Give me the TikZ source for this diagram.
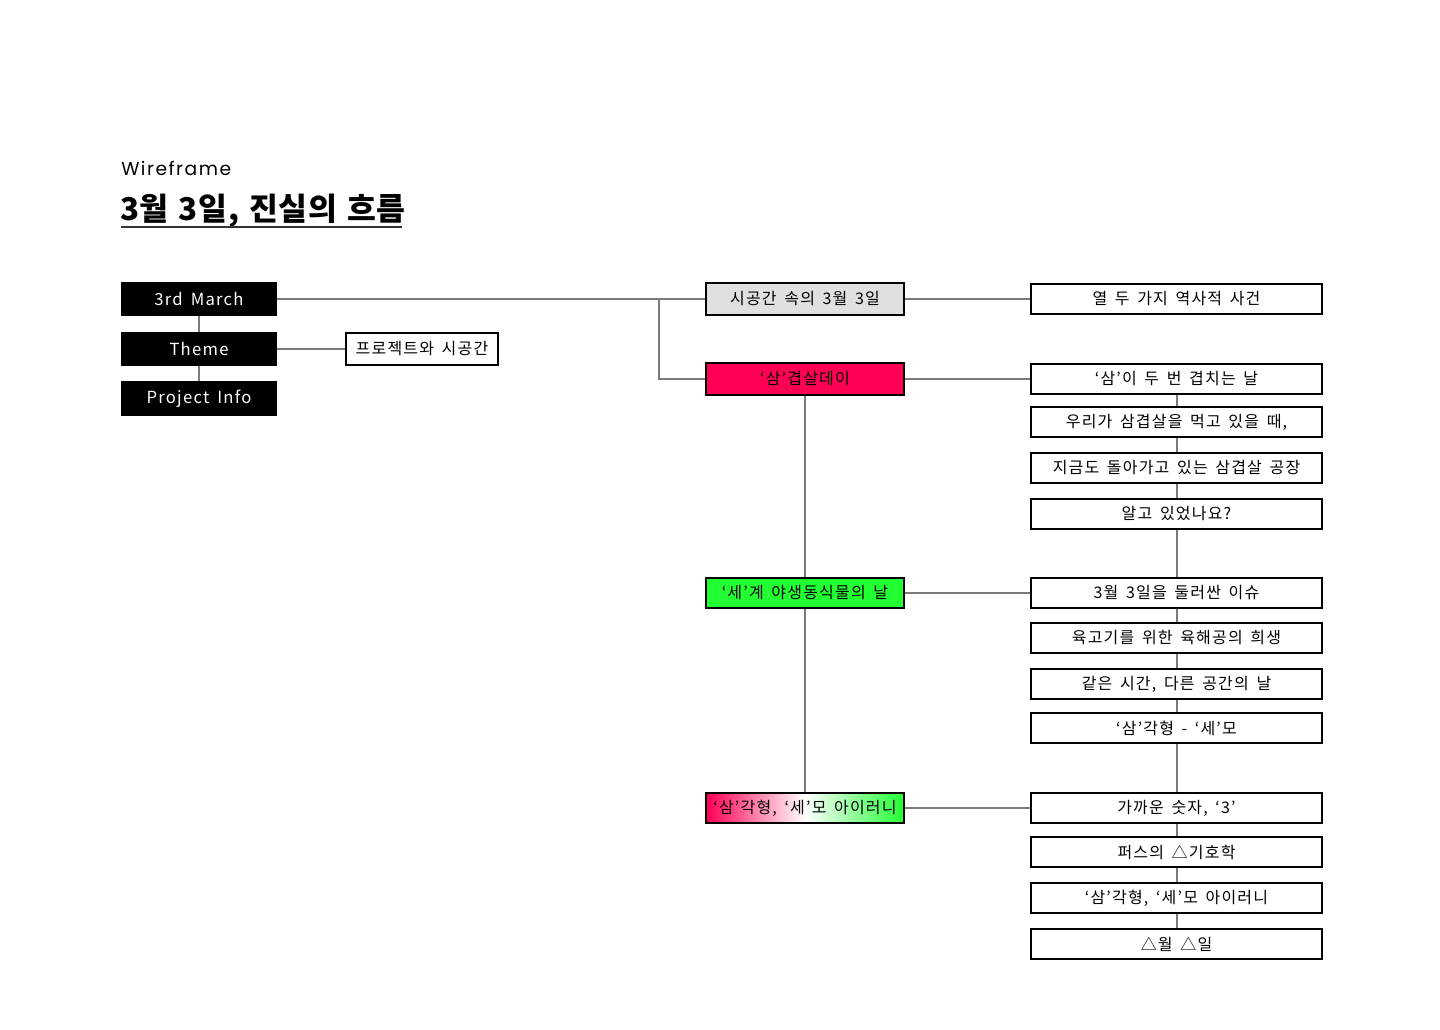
\documentclass[tikz,border=0pt]{standalone}
\usepackage{fontspec}
\setmainfont{Noto Sans CJK KR}
\newfontfamily\kr[LetterSpace=7.5, WordSpace=1.6]{Noto Sans CJK KR}
\newfontfamily\krt[LetterSpace=2, WordSpace=1.3]{Noto Sans CJK KR}
\newfontfamily\wf[LetterSpace=8]{Poppins}
\definecolor{hot}{HTML}{FF0055}
\definecolor{lime}{HTML}{22FF33}
\definecolor{lightbox}{HTML}{E0E0E0}
\definecolor{wire}{HTML}{7A7A7A}
\tikzset{
  conn/.style={draw=wire, line width=1.5pt},
  darkbox/.style={fill=black, text=white, minimum width=117pt, minimum height=25.5pt, inner sep=0pt, font=\kr\fontsize{12.5}{14}\selectfont},
  wbox/.style={draw=black, line width=1.6pt, fill=white, inner sep=0pt, font=\kr\fontsize{12}{14}\selectfont},
  midbox/.style={wbox, minimum width=148.5pt, minimum height=24pt},
  rbox/.style={wbox, minimum width=218.25pt, minimum height=22.5pt},
}
\begin{document}
\begin{tikzpicture}[x=0.75pt, y=-0.75pt]
\useasboundingbox (0,0) rectangle (1440,1030);
% header
\node[anchor=west, inner sep=0pt, font=\wf\fontsize{14}{16}\selectfont] (wfr) at (121,168) {Wireframe};
\node[anchor=west, inner sep=0pt, font=\krt\bfseries\fontsize{23.5}{26}\selectfont] (ttl) at (120,211) {3월 3일, 진실의 흐름};
\coordinate (ul1) at (121,227);
\coordinate (ul2) at (402,227);
\draw[line width=0.9pt, draw=black!80] (ul1) -- (ul2);
% left column
\node[darkbox] (march) at (199,299) {3rd March};
\node[darkbox] (theme) at (199,349) {Theme};
\node[darkbox, minimum height=26.25pt] (info) at (199,398.5) {Project Info};
\node[wbox, minimum width=114pt, minimum height=24pt] (proj) at (422,349) {프로젝트와 시공간};
% middle column
\node[midbox, fill=lightbox] (m1) at (805,299) {시공간 속의 3월 3일};
\node[midbox, fill=hot] (m2) at (805,379) {‘삼’겹살데이};
\node[midbox, fill=lime, minimum height=22.5pt] (m3) at (805,593) {‘세’계 야생동식물의 날};
\node[midbox, minimum height=22.5pt, left color=hot, right color=lime, middle color=white] (m4) at (805,808) {‘삼’각형, ‘세’모 아이러니};
% right column
\node[rbox] (r1) at (1176.5,299) {열 두 가지 역사적 사건};
\node[rbox] (r2) at (1176.5,379) {‘삼’이 두 번 겹치는 날};
\node[rbox] (r3) at (1176.5,422) {우리가 삼겹살을 먹고 있을 때,};
\node[rbox] (r4) at (1176.5,468) {지금도 돌아가고 있는 삼겹살 공장};
\node[rbox] (r5) at (1176.5,514) {알고 있었나요?};
\node[rbox] (r6) at (1176.5,593) {3월 3일을 둘러싼 이슈};
\node[rbox] (r7) at (1176.5,638) {육고기를 위한 육해공의 희생};
\node[rbox] (r8) at (1176.5,684) {같은 시간, 다른 공간의 날};
\node[rbox] (r9) at (1176.5,728) {‘삼’각형 - ‘세’모};
\node[rbox] (r10) at (1176.5,808) {가까운 숫자, ‘3’};
\node[rbox] (r11) at (1176.5,852) {퍼스의 △기호학};
\node[rbox] (r12) at (1176.5,898) {‘삼’각형, ‘세’모 아이러니};
\node[rbox] (r13) at (1176.5,944) {△월 △일};
% connectors
\coordinate (br) at (659,299);
\draw[conn] (march.south) -- (theme.north);
\draw[conn] (theme.south) -- (info.north);
\draw[conn] (theme.east) -- (proj.west);
\draw[conn] (march.east) -- (m1.west);
\draw[conn] (br) |- (m2.west);
\draw[conn] (m2.south) -- (m3.north);
\draw[conn] (m3.south) -- (m4.north);
\draw[conn] (m1.east) -- (r1.west);
\draw[conn] (m2.east) -- (r2.west);
\draw[conn] (m3.east) -- (r6.west);
\draw[conn] (m4.east) -- (r10.west);
\foreach \a/\b in {r2/r3,r3/r4,r4/r5,r5/r6,r6/r7,r7/r8,r8/r9,r9/r10,r10/r11,r11/r12,r12/r13}
  \draw[conn] (\a.south) -- (\b.north);
\end{tikzpicture}
\end{document}
